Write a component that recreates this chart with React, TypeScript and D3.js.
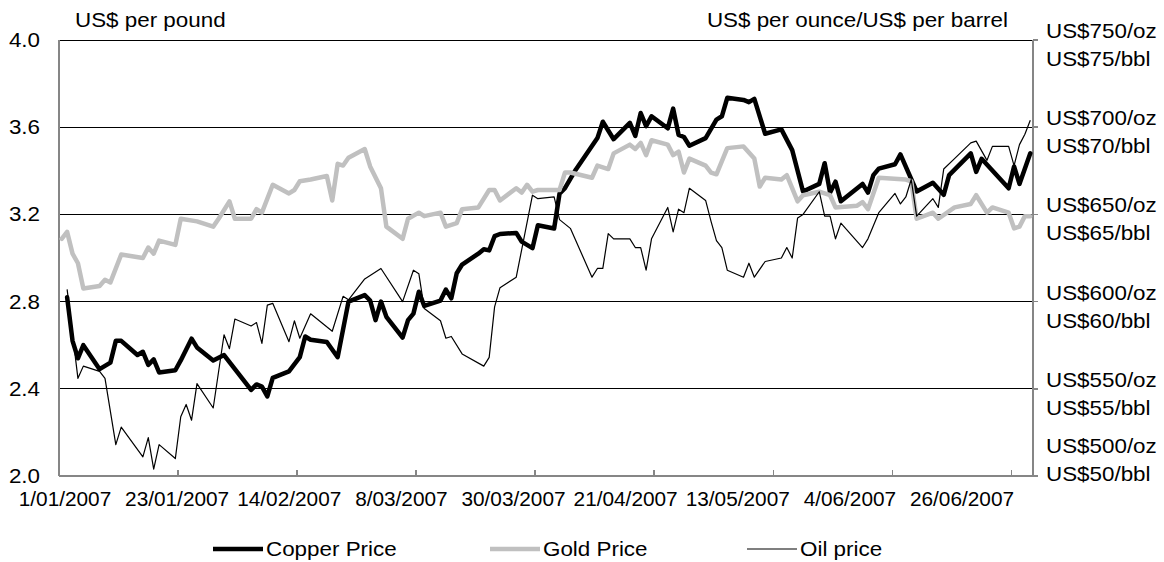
import React from 'react';
import * as d3 from 'd3';

// ---------- data ----------
const copperDates = ['2007-01-02','2007-01-03','2007-01-04','2007-01-05','2007-01-08','2007-01-10','2007-01-11','2007-01-12','2007-01-15','2007-01-16','2007-01-17','2007-01-18','2007-01-19','2007-01-22','2007-01-23','2007-01-25','2007-01-26','2007-01-29','2007-01-31','2007-02-05','2007-02-06','2007-02-07','2007-02-08','2007-02-09','2007-02-12','2007-02-14','2007-02-15','2007-02-16','2007-02-19','2007-02-21','2007-02-23','2007-02-26','2007-02-27','2007-02-28','2007-03-01','2007-03-02','2007-03-05','2007-03-06','2007-03-07','2007-03-08','2007-03-09','2007-03-12','2007-03-13','2007-03-14','2007-03-15','2007-03-16','2007-03-19','2007-03-20','2007-03-21','2007-03-22','2007-03-23','2007-03-26','2007-03-27','2007-03-29','2007-03-30','2007-04-02','2007-04-03','2007-04-04','2007-04-06','2007-04-10','2007-04-11','2007-04-13','2007-04-16','2007-04-17','2007-04-18','2007-04-19','2007-04-20','2007-04-23','2007-04-24','2007-04-25','2007-04-26','2007-04-27','2007-04-30','2007-05-02','2007-05-03','2007-05-04','2007-05-07','2007-05-08','2007-05-09','2007-05-11','2007-05-14','2007-05-16','2007-05-18','2007-05-21','2007-05-22','2007-05-23','2007-05-24','2007-05-25','2007-05-29','2007-05-30','2007-05-31','2007-06-01','2007-06-04','2007-06-05','2007-06-08','2007-06-11','2007-06-13','2007-06-14','2007-06-18','2007-06-19','2007-06-20','2007-06-25','2007-06-26','2007-06-27','2007-06-29'];
const copperPrice = [2.82,2.62,2.54,2.60,2.49,2.52,2.62,2.62,2.555,2.57,2.51,2.535,2.475,2.485,2.53,2.63,2.59,2.53,2.555,2.395,2.42,2.41,2.365,2.45,2.48,2.545,2.64,2.625,2.615,2.545,2.80,2.83,2.805,2.715,2.80,2.73,2.635,2.715,2.745,2.845,2.78,2.805,2.855,2.815,2.93,2.97,3.02,3.04,3.035,3.10,3.11,3.115,3.075,3.045,3.15,3.135,3.295,3.32,3.405,3.55,3.625,3.545,3.62,3.56,3.665,3.605,3.65,3.595,3.685,3.565,3.555,3.515,3.55,3.635,3.65,3.735,3.725,3.715,3.73,3.57,3.59,3.495,3.305,3.34,3.435,3.30,3.35,3.26,3.34,3.30,3.38,3.41,3.43,3.475,3.305,3.345,3.29,3.38,3.48,3.395,3.455,3.32,3.42,3.34,3.48];

const goldDates = ['2007-01-01','2007-01-02','2007-01-03','2007-01-04','2007-01-05','2007-01-08','2007-01-09','2007-01-10','2007-01-12','2007-01-16','2007-01-17','2007-01-18','2007-01-19','2007-01-22','2007-01-23','2007-01-26','2007-01-29','2007-01-30','2007-02-01','2007-02-02','2007-02-05','2007-02-06','2007-02-07','2007-02-09','2007-02-12','2007-02-13','2007-02-14','2007-02-16','2007-02-19','2007-02-20','2007-02-21','2007-02-22','2007-02-23','2007-02-26','2007-02-27','2007-03-01','2007-03-02','2007-03-05','2007-03-06','2007-03-08','2007-03-09','2007-03-12','2007-03-13','2007-03-15','2007-03-16','2007-03-19','2007-03-21','2007-03-22','2007-03-23','2007-03-26','2007-03-27','2007-03-28','2007-03-29','2007-03-30','2007-04-03','2007-04-04','2007-04-05','2007-04-09','2007-04-10','2007-04-12','2007-04-13','2007-04-16','2007-04-17','2007-04-18','2007-04-19','2007-04-20','2007-04-23','2007-04-24','2007-04-25','2007-04-26','2007-04-27','2007-04-30','2007-05-01','2007-05-02','2007-05-04','2007-05-07','2007-05-09','2007-05-10','2007-05-11','2007-05-14','2007-05-15','2007-05-17','2007-05-18','2007-05-21','2007-05-23','2007-05-24','2007-05-28','2007-05-29','2007-05-30','2007-06-01','2007-06-06','2007-06-07','2007-06-08','2007-06-11','2007-06-12','2007-06-15','2007-06-18','2007-06-19','2007-06-21','2007-06-22','2007-06-25','2007-06-26','2007-06-27','2007-06-28','2007-06-29'];
const goldPrice = [636,640,627.5,622,607.5,609,612.5,611,627,625,631,627.5,635,632.5,647.5,646,643,647.5,657.5,647.5,647.5,653,651,667,662,664,669,670,672,658,679,678,682.5,687.5,677.5,665,643,636,647.5,651,649,651,643,645,653,654,664,664,658,665,662.5,667,663,664,664,674,674,671,678,676,685,690,687.5,691,684,692.5,690,684,686,674,682,678,674,673,688,689,682,666,671,670,672.5,657.5,661,663,661,654,655,657,653,671,670,669,647.5,651,647.5,654,656,661,651,654,651,642,643,649,649];

const oilDates = ['2007-01-02','2007-01-04','2007-01-05','2007-01-08','2007-01-09','2007-01-11','2007-01-12','2007-01-16','2007-01-17','2007-01-18','2007-01-19','2007-01-22','2007-01-23','2007-01-24','2007-01-25','2007-01-26','2007-01-29','2007-01-31','2007-02-01','2007-02-02','2007-02-05','2007-02-06','2007-02-07','2007-02-08','2007-02-09','2007-02-12','2007-02-13','2007-02-14','2007-02-16','2007-02-20','2007-02-22','2007-02-23','2007-02-26','2007-02-27','2007-03-01','2007-03-05','2007-03-07','2007-03-08','2007-03-09','2007-03-12','2007-03-13','2007-03-14','2007-03-16','2007-03-20','2007-03-21','2007-03-22','2007-03-23','2007-03-26','2007-03-29','2007-03-30','2007-04-02','2007-04-03','2007-04-05','2007-04-09','2007-04-10','2007-04-11','2007-04-12','2007-04-13','2007-04-16','2007-04-17','2007-04-18','2007-04-19','2007-04-20','2007-04-23','2007-04-24','2007-04-25','2007-04-26','2007-04-27','2007-04-30','2007-05-01','2007-05-02','2007-05-03','2007-05-04','2007-05-07','2007-05-08','2007-05-09','2007-05-11','2007-05-14','2007-05-15','2007-05-16','2007-05-17','2007-05-18','2007-05-21','2007-05-22','2007-05-23','2007-05-24','2007-05-25','2007-05-29','2007-05-30','2007-06-01','2007-06-04','2007-06-05','2007-06-06','2007-06-07','2007-06-08','2007-06-11','2007-06-12','2007-06-13','2007-06-15','2007-06-18','2007-06-19','2007-06-21','2007-06-22','2007-06-25','2007-06-26','2007-06-27','2007-06-28','2007-06-29'];
const oilPrice = [60.7,55.6,56.3,56.0,55.6,51.8,52.8,51.1,52.2,50.4,51.8,51.0,53.4,54.1,53.2,55.3,53.9,58.1,57.3,59.0,58.6,58.8,57.6,59.8,59.9,57.7,58.9,57.9,59.3,58.3,60.3,60.1,61.3,61.5,61.9,60.0,61.8,61.6,59.6,58.9,57.9,58.0,57.0,56.3,56.8,59.7,60.8,61.4,66.1,65.9,66.0,64.7,64.2,61.4,61.9,61.9,63.9,63.6,63.6,63.1,63.1,61.8,63.6,65.4,64.0,65.3,65.1,66.5,65.8,64.6,63.5,63.1,61.8,61.4,62.2,61.4,62.3,62.5,63.1,62.5,64.8,65.0,66.3,64.9,64.9,63.6,64.5,63.1,63.6,65.1,66.2,65.6,66.0,67.0,64.9,65.9,65.4,67.6,68.2,69.1,69.2,68.1,68.9,68.9,67.8,69.0,69.6,70.4];

const copperTicks = [2.0, 2.4, 2.8, 3.2, 3.6, 4.0];
const goldTicks = [500, 550, 600, 650, 700, 750];
const oilTicks = [50, 55, 60, 65, 70, 75];
const axisStart = '2007-01-01';
const axisEnd = '2007-06-30';
const tickEveryDays = 22;
const xLabels = ['1/01/2007', '23/01/2007', '14/02/2007', '8/03/2007', '30/03/2007', '21/04/2007', '13/05/2007', '4/06/2007', '26/06/2007'];

const seriesNames = ['Copper Price', 'Gold Price', 'Oil price'];

// ---------- layout ----------
const W = 1164;
const H = 562;
const P = { left: 59, right: 1033, top: 40, bottom: 476 };
const FONT = '"Liberation Sans", Arial, sans-serif';
const FS = 20;
const SX = 1.12; // horizontal stretch of the reference's lettering
const SX_DATES = 1.04;
const GRAY_AXIS = '#868686';
const GOLD = '#c0c0c0';

const parse = d3.timeParse('%Y-%m-%d');

function T({ x, y, anchor = 'start', sx = SX, children }: { x: number; y: number; anchor?: string; sx?: number; children: React.ReactNode }) {
  return (
    <text transform={`translate(${x},${y}) scale(${sx},1)`} textAnchor={anchor} fill="#000">
      {children}
    </text>
  );
}

export default function App() {
  const start = parse(axisStart) as Date;
  const end = parse(axisEnd) as Date;
  const x = d3.scaleTime().domain([start, end]).range([P.left, P.right]);
  const mid = (d: Date) => d3.timeHour.offset(d, 12);
  const yCu = d3.scaleLinear().domain([2, 4]).range([P.bottom, P.top]);
  const yAu = d3.scaleLinear().domain([500, 750]).range([P.bottom, P.top]);
  const yOil = d3.scaleLinear().domain([50, 75]).range([P.bottom, P.top]);
  const xLab = d3.scalePoint<string>().domain(xLabels).range([P.left + 6, P.right - 71]);

  const mk = (dates: string[], vals: number[]) =>
    dates.map((d, i) => [parse(d) as Date, vals[i]] as [Date, number]);

  const lineFor = (scale: d3.ScaleLinear<number, number>) =>
    d3
      .line<[Date, number]>()
      .x((d) => x(mid(d[0])))
      .y((d) => scale(d[1]));

  const copperPath = lineFor(yCu)(mk(copperDates, copperPrice)) || '';
  const goldPath = lineFor(yAu)(mk(goldDates, goldPrice)) || '';
  const oilPath = lineFor(yOil)(mk(oilDates, oilPrice)) || '';

  const tickDates: Date[] = [];
  for (let d = start; d < end; d = d3.timeDay.offset(d, tickEveryDays)) tickDates.push(d);

  const legendY = 549;
  const legendItems = [
    { name: seriesNames[0], x0: 213, stroke: '#000', w: 4.5 },
    { name: seriesNames[1], x0: 490, stroke: GOLD, w: 4.5 },
    { name: seriesNames[2], x0: 747, stroke: '#000', w: 1.2 },
  ];

  return (
    <svg
      width={W}
      height={H}
      style={{ position: 'absolute', left: 0, top: 0, background: '#fff' }}
      fontFamily={FONT}
      fontSize={FS}
    >
      <rect x={0} y={0} width={W} height={H} fill="#fff" />
      {/* gridlines */}
      {copperTicks.slice(1).map((t) => (
        <line key={t} x1={P.left} x2={P.right} y1={yCu(t)} y2={yCu(t)} stroke="#000" strokeWidth={1} shapeRendering="crispEdges" />
      ))}
      {/* axes */}
      <line x1={P.left} x2={P.left} y1={P.top} y2={P.bottom} stroke={GRAY_AXIS} strokeWidth={1.5} shapeRendering="crispEdges" />
      <line x1={P.right} x2={P.right} y1={P.top} y2={P.bottom} stroke={GRAY_AXIS} strokeWidth={1.5} shapeRendering="crispEdges" />
      <line x1={P.left} x2={P.right} y1={P.bottom} y2={P.bottom} stroke={GRAY_AXIS} strokeWidth={1.5} shapeRendering="crispEdges" />
      {copperTicks.map((t) => (
        <line key={'rt' + t} x1={P.right} x2={P.right + 5} y1={yCu(t)} y2={yCu(t)} stroke={GRAY_AXIS} strokeWidth={1.5} shapeRendering="crispEdges" />
      ))}
      {tickDates.map((d) => (
        <line key={'xt' + d.getTime()} x1={x(d)} x2={x(d)} y1={P.bottom} y2={P.bottom - 6} stroke={GRAY_AXIS} strokeWidth={1.5} shapeRendering="crispEdges" />
      ))}

      {/* series */}
      <path d={copperPath} fill="none" stroke="#000" strokeWidth={4.5} strokeLinejoin="round" strokeLinecap="round" />
      <path d={goldPath} fill="none" stroke={GOLD} strokeWidth={4.5} strokeLinejoin="round" strokeLinecap="round" />
      <path d={oilPath} fill="none" stroke="#000" strokeWidth={1.2} strokeLinejoin="round" />

      {/* left tick labels */}
      {copperTicks.map((t) => (
        <T key={'l' + t} x={40} y={yCu(t) + 7} anchor="end">
          {d3.format('.1f')(t)}
        </T>
      ))}
      {/* right tick labels */}
      {goldTicks.map((g, i) => {
        const c = Math.min(yAu(g) + 5, P.bottom - 16);
        return (
          <g key={'r' + g}>
            <T x={1046} y={c - 14 + 7}>{`US$${g}/oz`}</T>
            <T x={1046} y={c + 14 + 7}>{`US$${oilTicks[i]}/bbl`}</T>
          </g>
        );
      })}
      {/* x labels */}
      {xLabels.map((l) => (
        <T key={'xl' + l} x={xLab(l) as number} y={506} anchor="middle" sx={SX_DATES}>
          {l}
        </T>
      ))}
      {/* unit titles */}
      <T x={75} y={27}>US$ per pound</T>
      <T x={1008} y={27} anchor="end">US$ per ounce/US$ per barrel</T>

      {/* legend */}
      {legendItems.map((it) => (
        <g key={it.name}>
          <line x1={it.x0} x2={it.x0 + 50} y1={legendY} y2={legendY} stroke={it.stroke} strokeWidth={it.w} />
          <T x={it.x0 + 53} y={legendY + 7}>{it.name}</T>
        </g>
      ))}
    </svg>
  );
}
